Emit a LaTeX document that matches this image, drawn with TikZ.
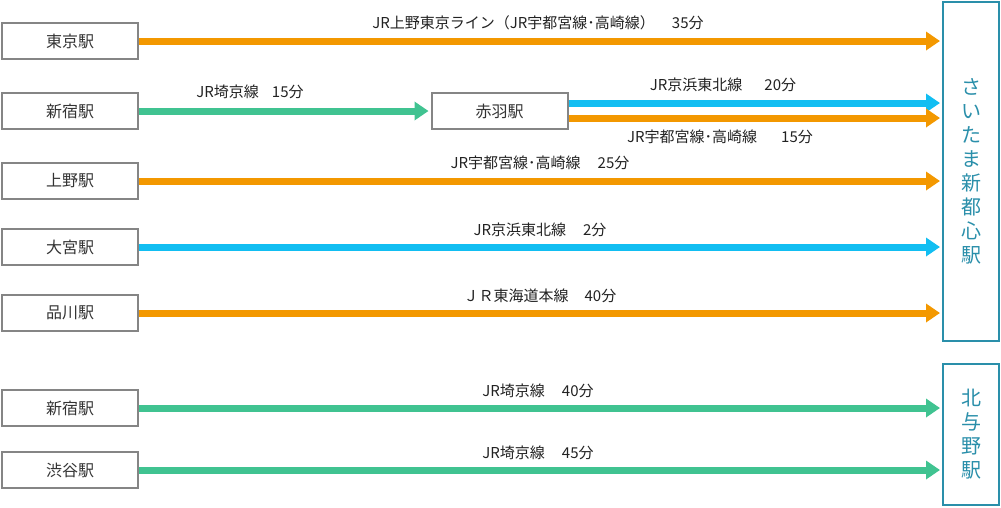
\documentclass[tikz,border=0pt]{standalone}
\usepackage{fontspec}
\setmainfont{Noto Sans CJK JP}
\usetikzlibrary{arrows.meta}
\definecolor{orng}{HTML}{F39800}
\definecolor{grn}{HTML}{40C391}
\definecolor{blu}{HTML}{12BEF2}
\definecolor{boxgray}{HTML}{858585}
\definecolor{teal}{HTML}{2A8FAA}
\definecolor{txt}{HTML}{333333}
\definecolor{ltxt}{HTML}{222222}
\tikzset{
  stn/.style={draw=boxgray, line width=2pt, fill=white, minimum width=136pt, minimum height=36pt, inner sep=0pt, font=\fontsize{16}{16}\selectfont, text=txt},
  dest/.style={draw=teal, line width=2pt, fill=white, minimum width=56pt, inner sep=0pt, text=teal, align=center, font=\fontsize{20}{24}\selectfont},
  lbl/.style={inner sep=0pt, font=\fontsize{15}{15}\selectfont, text=ltxt},
  conn/.style={line width=7pt, -{Triangle[length=14pt,width=18pt]}, shorten >=2pt}
}
\begin{document}
\begin{tikzpicture}[x=1pt,y=-1pt]
\useasboundingbox (0,0) rectangle (1001,507);
% destination boxes
\node[dest, minimum height=339pt] (saitama) at (971,171.5) {さ\\い\\た\\ま\\新\\都\\心\\駅};
\node[dest, minimum height=141pt] (kitayono) at (971,434.5) {北\\与\\野\\駅};
% origin boxes
\node[stn] (tokyo) at (70,41) {東京駅};
\node[stn] (shinjuku) at (70,111) {新宿駅};
\node[stn] (ueno) at (70,181) {上野駅};
\node[stn] (omiya) at (70,247) {大宮駅};
\node[stn] (shinagawa) at (70,313) {品川駅};
\node[stn] (shinjukub) at (70,408) {新宿駅};
\node[stn] (shibuya) at (70,470) {渋谷駅};
\node[stn] (akabane) at (499.5,111) {赤羽駅};
% coordinates for the two Akabane lines
\coordinate (kb) at (0,103);
\coordinate (ut) at (0,118);
% connectors
\draw[conn, orng] (tokyo.east) -- (tokyo.east -| saitama.west);
\draw[conn, grn] (shinjuku.east) -- (akabane.west);
\draw[conn, blu] (akabane.east |- kb) -- (saitama.west |- kb);
\draw[conn, orng] (akabane.east |- ut) -- (saitama.west |- ut);
\draw[conn, orng] (ueno.east) -- (ueno.east -| saitama.west);
\draw[conn, blu] (omiya.east) -- (omiya.east -| saitama.west);
\draw[conn, orng] (shinagawa.east) -- (shinagawa.east -| saitama.west);
\draw[conn, grn] (shinjukub.east) -- (shinjukub.east -| kitayono.west);
\draw[conn, grn] (shibuya.east) -- (shibuya.east -| kitayono.west);
% labels
\node[lbl] (l1) at (538,23) {JR上野東京ライン（JR宇都宮線･高崎線）\hspace{17pt}35分};
\node[lbl] (l2) at (250,92) {JR埼京線\hspace{13pt}15分};
\node[lbl] (l3) at (723,85) {JR京浜東北線\hspace{22pt}20分};
\node[lbl] (l4) at (720,137) {JR宇都宮線･高崎線\hspace{24pt}15分};
\node[lbl] (l5) at (540,163) {JR宇都宮線･高崎線\hspace{17pt}25分};
\node[lbl] (l6) at (540,230) {JR京浜東北線\hspace{17pt}2分};
\node[lbl] (l7) at (540,296) {ＪＲ東海道本線\hspace{16pt}40分};
\node[lbl] (l8) at (538,391) {JR埼京線\hspace{17pt}40分};
\node[lbl] (l9) at (538,453) {JR埼京線\hspace{17pt}45分};
\end{tikzpicture}
\end{document}
